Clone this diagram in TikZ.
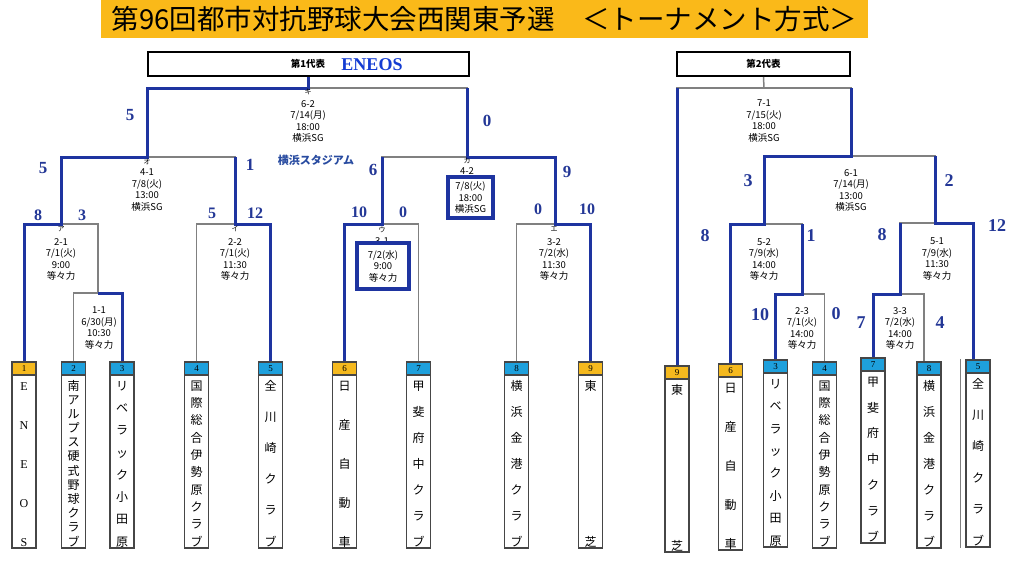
\documentclass[tikz,border=0pt]{standalone}
\usepackage{fontspec}
\setmainfont{Liberation Serif}
\newfontfamily\jp{Noto Sans CJK JP}

\definecolor{titleorange}{RGB}{250,185,25}
\definecolor{hdrorange}{RGB}{245,185,30}
\definecolor{hdrblue}{RGB}{30,160,220}
\definecolor{lineblue}{RGB}{30,52,160}
\definecolor{linegray}{RGB}{128,128,128}
\definecolor{boxgray}{RGB}{70,70,70}
\definecolor{numblue}{RGB}{35,55,150}
\definecolor{eneosblue}{RGB}{20,60,210}
\definecolor{stadiumblue}{RGB}{40,75,160}

\tikzset{
  win/.style={draw=lineblue, line width=3pt},
  lose/.style={draw=linegray, line width=1.5pt},
  teambox/.style={draw=boxgray, line width=1.5pt, fill=white, minimum width=24pt, inner sep=0pt},
  hdr/.style={draw=boxgray, line width=1.5pt, minimum width=24pt, minimum height=13pt, inner sep=0pt, font=\fontsize{9}{9}\selectfont},
  repbox/.style={draw=black, line width=2pt, minimum height=24pt, inner sep=0pt, font=\jp\bfseries\fontsize{9.5}{9.5}\selectfont},
  info/.style={align=center, inner sep=0pt, font=\jp\fontsize{9.5}{11.5}\selectfont},
  kana/.style={inner sep=0pt, font=\jp\fontsize{7}{7}\selectfont},
  place/.style={draw=lineblue, line width=4pt, fill=white, align=center, inner sep=0pt, font=\jp\fontsize{9.5}{11.5}\selectfont},
  score/.style={text=numblue, inner sep=0pt, font=\fontsize{#1}{#1}\selectfont\bfseries},
  score/.default=16
}

% team name written top to bottom, spread over the box
\newcommand{\tate}[2]{%
  \vbox to #1{\offinterlineskip
    \foreach \ch [count=\k] in {#2}{\ifnum\k>1 \vfill\fi
      \hbox to 24pt{\hss\rule[-2pt]{0pt}{12pt}\ch\hss}}}}

% #1 name, #2 x, #3 top, #4 bottom, #5 header colour, #6 number, #7 letters
\newcommand{\team}[7]{%
  \node[teambox, minimum height={#4-#3}] (#1) at (#2,{(#3+#4)/2}) {};
  \node[hdr, fill=#5, anchor=north] (#1n) at (#1.north) {#6};
  \node[anchor=north, inner sep=0pt, font=\jp\fontsize{12}{12}\selectfont] at (#2,#3+18)
    {\tate{\dimexpr #4pt-#3pt-20pt\relax}{#7}};
}

\begin{document}
\begin{tikzpicture}[x=1pt, y=-1pt]
  \useasboundingbox (0,0) rectangle (1017,560);

  % title
  \node[fill=titleorange, minimum width=767pt, minimum height=38pt, inner sep=0pt,
    font=\jp\fontsize{27.5}{27.5}\selectfont] (title) at (484.5,19)
    {第96回都市対抗野球大会西関東予選　＜トーナメント方式＞\hspace{11pt}};

  % representatives
  \node[repbox, minimum width=321pt] (rep1) at (308,64) {第1代表};
  \node[text=eneosblue, inner sep=0pt, font=\fontsize{18}{18}\selectfont\bfseries] (rep1w) at (372,65) {ENEOS};
  \node[repbox, minimum width=173pt] (rep2) at (763.5,64) {第2代表};

  % teams, first bracket
  \team{t1}{24}{362}{548}{hdrorange}{1}{\rmfamily E,\rmfamily N,\rmfamily E,\rmfamily O,\rmfamily S}
  \team{t2}{73.5}{362}{548}{hdrblue}{2}{南,ア,ル,プ,ス,硬,式,野,球,ク,ラ,ブ}
  \team{t3}{122}{362}{548}{hdrblue}{3}{リ,ベ,ラ,ッ,ク,小,田,原}
  \team{t4}{196.5}{362}{548}{hdrblue}{4}{国,際,総,合,伊,勢,原,ク,ラ,ブ}
  \team{t5}{270.5}{362}{548}{hdrblue}{5}{全,川,崎,ク,ラ,ブ}
  \team{t6}{344.5}{362}{548}{hdrorange}{6}{日,産,自,動,車}
  \team{t7}{418.5}{362}{548}{hdrblue}{7}{甲,斐,府,中,ク,ラ,ブ}
  \team{t8}{516.5}{362}{548}{hdrblue}{8}{横,浜,金,港,ク,ラ,ブ}
  \team{t9}{590.5}{362}{548}{hdrorange}{9}{東,芝}

  % teams, second bracket
  \team{u9}{677}{366}{552}{hdrorange}{9}{東,芝}
  \team{u6}{730.5}{364}{550}{hdrorange}{6}{日,産,自,動,車}
  \team{u3}{775.5}{360}{547}{hdrblue}{3}{リ,ベ,ラ,ッ,ク,小,田,原}
  \team{u4}{824.5}{362}{548}{hdrblue}{4}{国,際,総,合,伊,勢,原,ク,ラ,ブ}
  \team{u7}{873}{358}{543}{hdrblue}{7}{甲,斐,府,中,ク,ラ,ブ}
  \team{u8}{929}{362}{548}{hdrblue}{8}{横,浜,金,港,ク,ラ,ブ}
  \team{u5}{978}{360}{547}{hdrblue}{5}{全,川,崎,ク,ラ,ブ}
  \draw[linegray, line width=1pt] ([xshift=-5pt]u5.north west) -- ([xshift=-5pt]u5.south west);

  % match points
  \coordinate (kF) at (308,88);
  \coordinate (mO) at (147,157);
  \coordinate (mKa) at (467,157);
  \coordinate (mA) at (61,224);
  \coordinate (mI) at (235,224);
  \coordinate (mU) at (382,224);
  \coordinate (mE) at (555,224);
  \coordinate (m11) at (98,293);
  \coordinate (mF2) at (764,88);
  \coordinate (m61) at (851,156);
  \coordinate (m52) at (764,224);
  \coordinate (m51) at (935,223);
  \coordinate (m23) at (802,294);
  \coordinate (m33) at (900,294);

  % brackets
  \draw[lose] (rep1.south) -- (kF);
  \draw[lose] (mO) |- (kF) -| (mKa);
  \draw[lose] (mA) |- (mO) -| (mI);
  \draw[lose] (mU) |- (mKa) -| (mE);
  \draw[lose] (t1.north) |- (mA) -| (m11);
  \draw[lose] (t2.north) |- (m11) -| (t3.north);
  \draw[lose] (t4.north) |- (mI) -| (t5.north);
  \draw[lose] (t6.north) |- (mU) -| (t7.north);
  \draw[lose] (t8.north) |- (mE) -| (t9.north);

  \draw[lose] (rep2.south) -- (mF2);
  \draw[lose] (u9.north) |- (mF2) -| (m61);
  \draw[lose] (m52) |- (m61) -| (m51);
  \draw[lose] (u6.north) |- (m52) -| (m23);
  \draw[lose] (u3.north) |- (m23) -| (u4.north);
  \draw[lose] (m33) |- (m51) -| ([xshift=-5pt]u5.north);
  \draw[lose] (u7.north) |- (m33) -| ([xshift=-5pt]u8.north);

  % winners
  \draw[win] (t1.north) |- (mA) |- (mO) |- (kF) -- (rep1.south);
  \draw[win] (t3.north) |- (m11);
  \draw[win] (t5.north) |- (mI) -- (mI |- mO);
  \draw[win] (t6.north) |- (mU) -- (mU |- mKa);
  \draw[win] (t9.north) |- (mE) |- (mKa) -- (mKa |- kF);

  \draw[win] (u9.north) -- (u9.north |- mF2);
  \draw[win] (u6.north) |- (m52) |- (m61) -- (m61 |- mF2);
  \draw[win] (u3.north) |- (m23) -- (m23 |- m52);
  \draw[win] (u7.north) |- (m33) -- (m33 |- m51);
  \draw[win] ([xshift=-5pt]u5.north) |- (m51) -- (m51 |- m61);

  % match info
  \node[kana] at (308,92) {キ};
  \node[info, anchor=north] at (308,100) {6-2\\7/14(月)\\18:00\\横浜SG};
  \node[kana] at (147,162) {オ};
  \node[info, anchor=north] at (147,169) {4-1\\7/8(火)\\13:00\\横浜SG};
  \node[kana] at (467,161) {カ};
  \node[info, anchor=north] at (467,167) {4-2};
  \node[place, minimum width=45pt, minimum height=41pt] (pKa) at (470.5,197.5) {7/8(火)\\18:00\\横浜SG};
  \node[text=stadiumblue, inner sep=0pt, font=\jp\bfseries\fontsize{11}{11}\selectfont] at (316,160) {横浜スタジアム};
  \node[kana] at (61,229) {ア};
  \node[info, anchor=north] at (61,238) {2-1\\7/1(火)\\9:00\\等々力};
  \node[info, anchor=north] at (99,307) {1-1\\6/30(月)\\10:30\\等々力};
  \node[kana] at (235,229) {イ};
  \node[info, anchor=north] at (235,238) {2-2\\7/1(火)\\11:30\\等々力};
  \node[kana] at (382,230) {ウ};
  \node[info, anchor=north] at (382,237) {3-1};
  \node[place, minimum width=52pt, minimum height=46pt] (pU) at (383,266) {7/2(水)\\9:00\\等々力};
  \node[kana] at (554,229) {エ};
  \node[info, anchor=north] at (554,238) {3-2\\7/2(水)\\11:30\\等々力};

  \node[info, anchor=north] at (764,100) {7-1\\7/15(火)\\18:00\\横浜SG};
  \node[info, anchor=north] at (851,169) {6-1\\7/14(月)\\13:00\\横浜SG};
  \node[info, anchor=north] at (764,238) {5-2\\7/9(水)\\14:00\\等々力};
  \node[info, anchor=north] at (937,238) {5-1\\7/9(水)\\11:30\\等々力};
  \node[info, anchor=north] at (802,307) {2-3\\7/1(火)\\14:00\\等々力};
  \node[info, anchor=north] at (900,307) {3-3\\7/2(水)\\14:00\\等々力};

  % scores
  \node[score=17] at (130,115) {5};
  \node[score=17] at (487,121) {0};
  \node[score=17] at (43,168) {5};
  \node[score=17] at (250,165) {1};
  \node[score=17] at (373,170) {6};
  \node[score=17] at (567,172) {9};
  \node[score=16] at (38,215) {8};
  \node[score=16] at (82,215) {3};
  \node[score=16] at (212,213) {5};
  \node[score=16] at (255,213) {12};
  \node[score=16] at (359,212) {10};
  \node[score=16] at (403,212) {0};
  \node[score=16] at (538,209) {0};
  \node[score=16] at (587,209) {10};

  \node[score=18] at (748,181) {3};
  \node[score=18] at (949,181) {2};
  \node[score=18] at (705,236) {8};
  \node[score=18] at (811,236) {1};
  \node[score=18] at (882,235) {8};
  \node[score=18] at (997,226) {12};
  \node[score=18] at (760,315) {10};
  \node[score=18] at (836,314) {0};
  \node[score=18] at (861,323) {7};
  \node[score=18] at (940,323) {4};
\end{tikzpicture}
\end{document}
